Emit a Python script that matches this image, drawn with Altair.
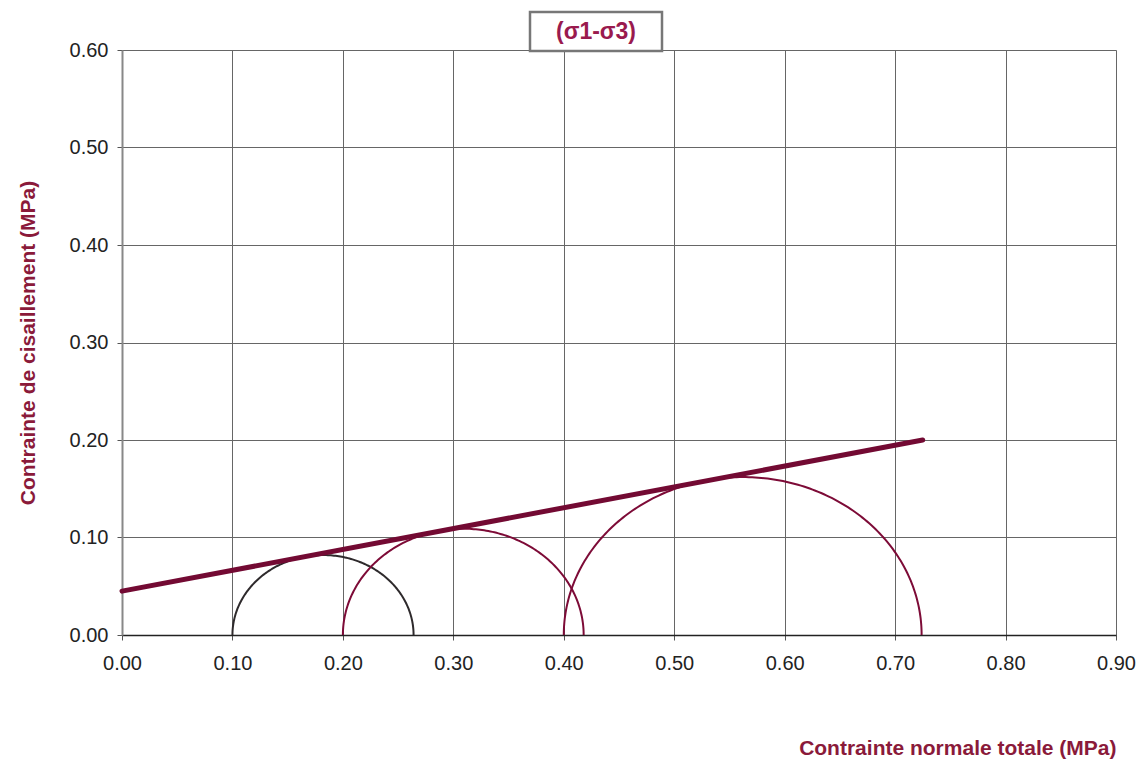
import altair as alt
import numpy as np
import pandas as pd

# Mohr circles: minor and major principal stresses (MPa)
sigma3 = [0.100, 0.200, 0.400]
sigma1 = [0.264, 0.418, 0.724]
circle_names = ["Essai 1", "Essai 2", "Essai 3"]
circle_colors = ["#2e2a2c", "#7d0b37", "#7d0b37"]

# Failure envelope end points (normal stress, shear stress)
env_sigma = [0.000, 0.725]
env_tau = [0.045, 0.200]

x_ticks = [0.0, 0.1, 0.2, 0.3, 0.4, 0.5, 0.6, 0.7, 0.8, 0.9]
y_ticks = [0.0, 0.1, 0.2, 0.3, 0.4, 0.5, 0.6]

rows = []
angles = np.linspace(np.pi, 0, 181)
for name, s3, s1 in zip(circle_names, sigma3, sigma1):
    c = (s1 + s3) / 2
    r = (s1 - s3) / 2
    for i, a in enumerate(angles):
        rows.append({"essai": name, "ordre": i,
                     "sigma": c + r * np.cos(a), "tau": r * np.sin(a)})
circles = pd.DataFrame(rows)
envelope = pd.DataFrame({"sigma": env_sigma, "tau": env_tau})

W, H = 994, 585
lab_color = "#8a1a3a"

x_scale = alt.Scale(domain=[0, 0.9], nice=False)
y_scale = alt.Scale(domain=[0, 0.6], nice=False)

x_axis = alt.Axis(values=x_ticks, format=".2f", grid=True, gridColor="#666",
                  gridWidth=1, domainColor="#222", domainWidth=1.5, tickColor="#555", tickSize=5,
                  labelFontSize=20, labelColor="#222", labelFont="Liberation Sans",
                  labelPadding=13, labelFlush=False, labelOverlap=False,
                  title="Contrainte normale totale (MPa)",
                  titleFontSize=21, titleFontWeight="bold", titleColor=lab_color,
                  titleFont="Liberation Sans", titleAnchor="end", titlePadding=64)
y_axis = alt.Axis(values=y_ticks, format=".2f", grid=True, gridColor="#666",
                  gridWidth=1, domainColor="#888", domainWidth=2, tickColor="#555", tickSize=5,
                  labelFontSize=20, labelColor="#222", labelFont="Liberation Sans",
                  labelPadding=9, labelFlush=False, labelOverlap=False,
                  title="Contrainte de cisaillement (MPa)",
                  titleFontSize=21, titleFontWeight="bold", titleColor=lab_color,
                  titleFont="Liberation Sans", titlePadding=31)

circ = alt.Chart(circles).mark_line(strokeWidth=2, clip=False).encode(
    x=alt.X("sigma:Q", scale=x_scale, axis=x_axis),
    y=alt.Y("tau:Q", scale=y_scale, axis=y_axis),
    order="ordre:Q",
    detail="essai:N",
    color=alt.Color("essai:N", scale=alt.Scale(domain=circle_names, range=circle_colors),
                    legend=None),
)

env = alt.Chart(envelope).mark_line(strokeWidth=5, color="#730a33",
                                    strokeCap="round").encode(
    x=alt.X("sigma:Q", scale=x_scale),
    y=alt.Y("tau:Q", scale=y_scale),
)

# Boxed chart heading above the plot
title_df = pd.DataFrame({"t": ["(σ1-σ3)"]})
box = alt.Chart(title_df).mark_rect(fill="white", stroke="#777", strokeWidth=2.5).encode(
    x=alt.value(408), x2=alt.value(540), y=alt.value(-38), y2=alt.value(1),
)
title_txt = alt.Chart(title_df).mark_text(fontSize=23, fontWeight="bold", color="#9a1a4e",
                                         font="Liberation Sans", baseline="middle",
                                         align="center").encode(
    x=alt.value(474), y=alt.value(-18), text="t:N",
)

chart = alt.layer(circ, env, box, title_txt).properties(
    width=W, height=H,
    autosize=alt.AutoSizeParams(type="none"),
    padding={"left": 122, "top": 50, "right": 28, "bottom": 129},
).configure_view(stroke="#888", strokeWidth=1.5).configure(background="white")

chart.save("out.html", embed_options={"renderer": "svg", "actions": False})
